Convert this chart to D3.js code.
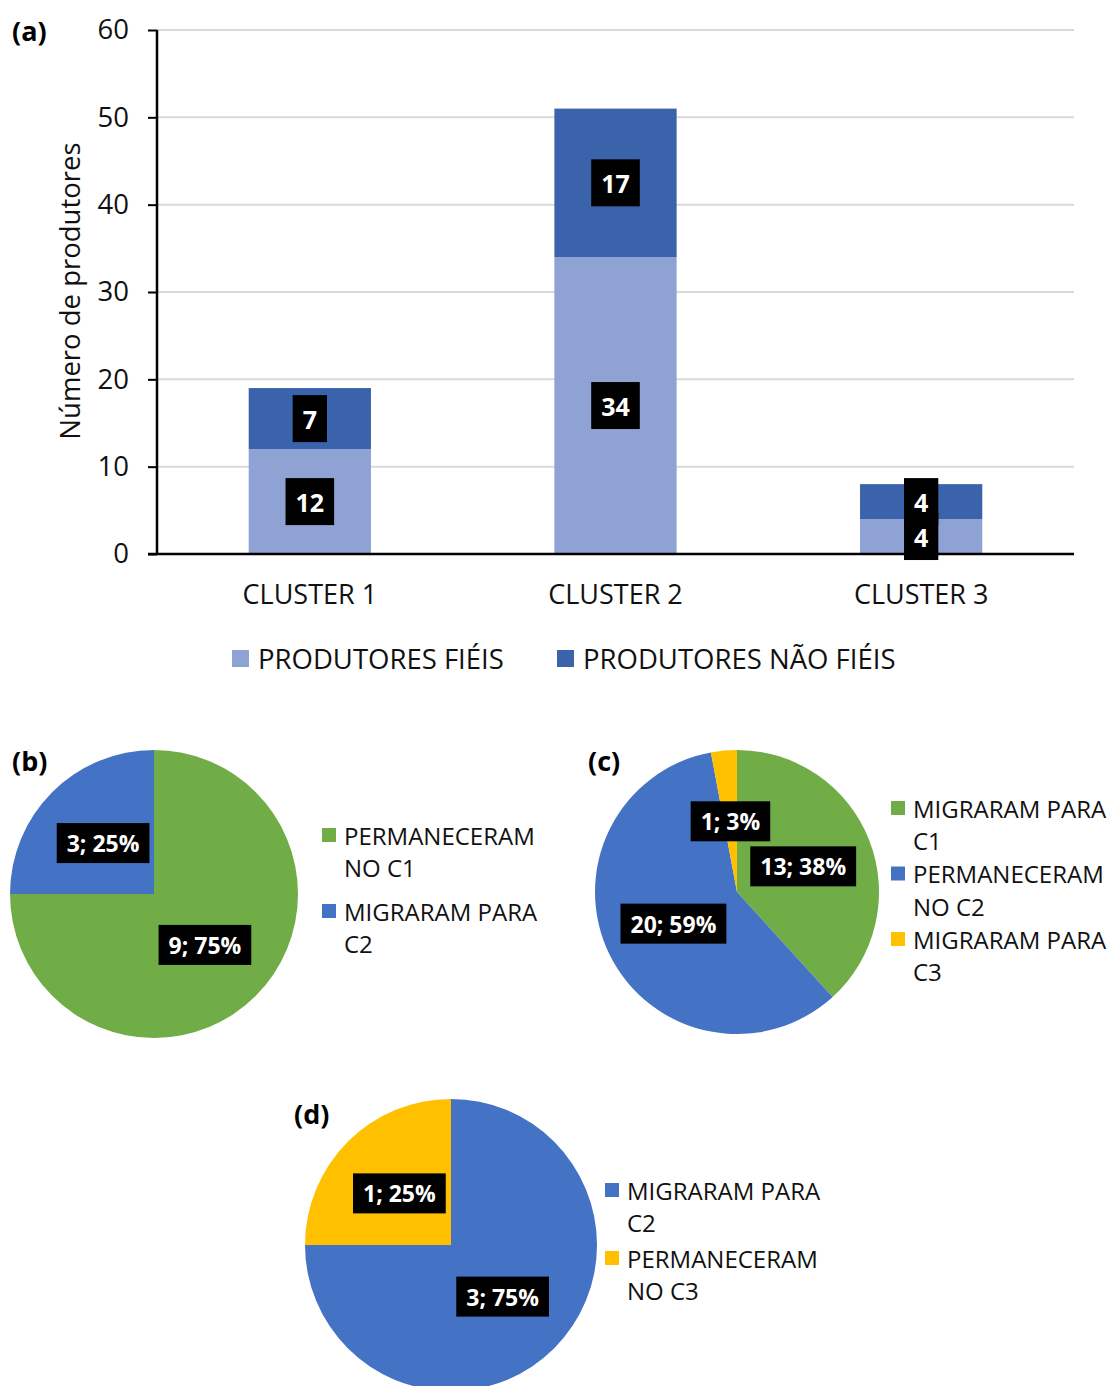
<!DOCTYPE html>
<html><head><meta charset="utf-8">
<script src="https://cdn.jsdelivr.net/npm/d3@7"></script>
<style>body{margin:0;background:#fff}svg{display:block;font-family:"Open Sans",sans-serif}</style>
</head><body>
<svg id="c" width="1109" height="1386"></svg>
<script>
// ---- data ----
const categories = ["CLUSTER 1", "CLUSTER 2", "CLUSTER 3"];
const fieis = [12, 34, 4];
const naoFieis = [7, 17, 4];
const seriesNames = ["PRODUTORES FIÉIS", "PRODUTORES NÃO FIÉIS"];
const yTicks = [0, 10, 20, 30, 40, 50, 60];
const yTitle = "Número de produtores";

const pieBLabels = [["PERMANECERAM", "NO C1"], ["MIGRARAM PARA", "C2"]];
const pieBValues = [9, 3];
const pieCLabels = [["MIGRARAM PARA", "C1"], ["PERMANECERAM", "NO C2"], ["MIGRARAM PARA", "C3"]];
const pieCValues = [13, 20, 1];
const pieDLabels = [["MIGRARAM PARA", "C2"], ["PERMANECERAM", "NO C3"]];
const pieDValues = [3, 1];

// ---- styles ----
const barColors = ["#8FA2D4", "#3B63AC"];
const GREEN = "#70AD47", BLUE = "#4472C4", YELLOW = "#FFC000";

const svg = d3.select("#c");

function labelBox(g, x, y, text, size, h, pad) {
  const t = g.append("text").attr("x", x).attr("y", y)
    .attr("text-anchor", "middle").attr("dominant-baseline", "central")
    .attr("font-weight", "bold").attr("font-size", size).attr("fill", "#fff").text(text);
  const w = t.node().getComputedTextLength() + pad * 2;
  g.insert("rect", () => t.node()).attr("x", x - w / 2).attr("y", y - h / 2)
    .attr("width", w).attr("height", h).attr("fill", "#000");
}

// ---- (a) stacked bar ----
const x = d3.scaleBand().domain(categories).range([157, 1074]).paddingInner(0.6).paddingOuter(0.3);
const y = d3.scaleLinear().domain([0, 60]).range([554, 30]);

const gA = svg.append("g");
gA.selectAll("line.grid").data(yTicks.filter(d => d > 0)).join("line")
  .attr("x1", 157).attr("x2", 1074).attr("y1", d => y(d)).attr("y2", d => y(d))
  .attr("stroke", "#D9D9D9").attr("stroke-width", 2);

const stackData = categories.map((c, i) => ({ cat: c, f: fieis[i], n: naoFieis[i] }));
const stacked = d3.stack().keys(["f", "n"])(stackData);
stacked.forEach((layer, li) => {
  gA.selectAll(null).data(layer).join("rect")
    .attr("x", d => x(d.data.cat)).attr("width", x.bandwidth())
    .attr("y", d => y(d[1])).attr("height", d => y(d[0]) - y(d[1]))
    .attr("fill", barColors[li]);
});

const yAxis = gA.append("g").attr("transform", "translate(157,0)")
  .call(d3.axisLeft(y).tickValues(yTicks).tickSize(9).tickPadding(19));
yAxis.select(".domain").attr("stroke", "#000").attr("stroke-width", 2.5).attr("d", "M0,30V554");
yAxis.selectAll(".tick line").attr("stroke", "#000").attr("stroke-width", 2);
yAxis.selectAll(".tick text").attr("font-size", 27.5).attr("fill", "#111").attr("font-family", "Open Sans");

const xAxis = gA.append("g").attr("transform", "translate(0,554)")
  .call(d3.axisBottom(x).tickSize(0).tickPadding(31));
xAxis.select(".domain").attr("stroke", "#000").attr("stroke-width", 2.5).attr("d", "M148,0H1074");
xAxis.selectAll(".tick text").attr("font-size", 27).attr("fill", "#111").attr("font-family", "Open Sans");

stacked.forEach((layer) => {
  layer.forEach(d => {
    labelBox(gA, x(d.data.cat) + x.bandwidth() / 2, y((d[0] + d[1]) / 2), String(d[1] - d[0]), 25, 47, 10);
  });
});

gA.append("text").attr("transform", "translate(69,291) rotate(-90)")
  .attr("text-anchor", "middle").attr("dominant-baseline", "central")
  .attr("font-size", 27.5).attr("fill", "#111").text(yTitle);

svg.append("text").attr("x", 12).attr("y", 30).attr("dominant-baseline", "central")
  .attr("font-weight", "bold").attr("font-size", 27).text("(a)");

// legend (a)
const legA = [232, 557];
seriesNames.forEach((s, i) => {
  svg.append("rect").attr("x", legA[i]).attr("y", 650).attr("width", 17).attr("height", 17).attr("fill", barColors[i]);
  svg.append("text").attr("x", legA[i] + 26).attr("y", 658).attr("dominant-baseline", "central")
    .attr("font-size", 27.5).attr("fill", "#111").text(s);
});

// ---- pies ----
function drawPie(cx, cy, r, values, colors, labels, legX, legY, itemGap, tag, tagX, tagY) {
  const g = svg.append("g");
  const total = d3.sum(values);
  const arcs = d3.pie().sort(null)(values);
  const arc = d3.arc().innerRadius(0).outerRadius(r);
  g.selectAll("path").data(arcs).join("path")
    .attr("transform", `translate(${cx},${cy})`)
    .attr("d", arc).attr("fill", (d, i) => colors[i]);
  arcs.forEach(a => {
    const [lx, ly] = arc.centroid(a);
    labelBox(g, cx + lx, cy + ly, `${a.data}; ${Math.round(a.data / total * 100)}%`, 23, 40, 10);
  });
  let yy = legY;
  labels.forEach((lines, i) => {
    g.append("rect").attr("x", legX).attr("y", yy - 7).attr("width", 14).attr("height", 14).attr("fill", colors[i]);
    lines.forEach((ln, k) => {
      g.append("text").attr("x", legX + 22).attr("y", yy + k * 32.5).attr("dominant-baseline", "central")
        .attr("font-size", 24).attr("fill", "#111").text(ln);
    });
    yy += itemGap;
  });
  svg.append("text").attr("x", tagX).attr("y", tagY).attr("dominant-baseline", "central")
    .attr("font-weight", "bold").attr("font-size", 27).text(tag);
}

drawPie(154, 894, 144, pieBValues, [GREEN, BLUE], pieBLabels, 322, 835, 76, "(b)", 12, 760);
drawPie(737, 892, 142, pieCValues, [GREEN, BLUE, YELLOW], pieCLabels, 891, 808, 65.5, "(c)", 588, 760);
drawPie(451, 1245, 146, pieDValues, [BLUE, YELLOW], pieDLabels, 605, 1190, 68, "(d)", 294, 1113);
</script>
</body></html>
